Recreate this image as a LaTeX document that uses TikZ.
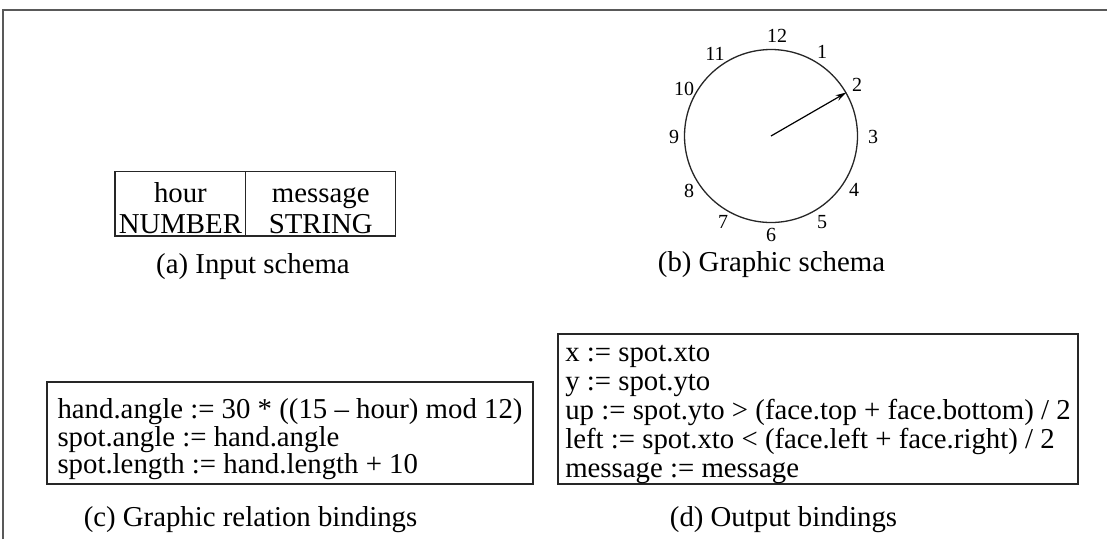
\documentclass[tikz,border=0pt]{standalone}
\usepackage{fontspec}
\setmainfont{Liberation Serif}
\usetikzlibrary{arrows.meta,positioning}
\newcommand{\firstrow}[1]{\rule{0pt}{#1}}

\begin{document}
\begin{tikzpicture}[x=1pt,y=-1pt,>={Stealth[length=11pt,width=6pt]},
    cell/.style={draw=black!85,line width=1.3pt,outer sep=0pt,inner sep=0pt,minimum height=64.3pt,
      align=center,font=\fontsize{28.8}{30.5}\selectfont},
    rulebox/.style={draw=black!85,line width=1.3pt,align=left,inner sep=0pt},
    subcap/.style={font=\fontsize{28.8}{30}\selectfont},
    numeral/.style={font=\fontsize{20}{20}\selectfont,inner sep=0pt}]
  \useasboundingbox (0,0) rectangle (1107,539);
  \draw[line width=1.5pt,black!65] (3,539) -- (3,10) -- (1107,10);

  % input schema
  \node[cell,minimum width=130.7pt] (hourcell) at (180.4,203.9) {\firstrow{28.3pt}hour\\NUMBER};
  \node[cell,minimum width=150pt,right=0pt of hourcell] (msgcell) {\firstrow{28.3pt}message\\STRING};
  \node[subcap] (capa) at (253,267) {(a) Input schema};

  % graphic schema
  \node[draw=black!85,circle,line width=1.3pt,minimum size=173pt,inner sep=0pt] (face) at (771,136) {};
  \foreach \n/\x/\y in {12/777/36,1/822/52,2/857/85,3/873/137,4/854/190,5/822/222,
                        6/771/235,7/723/222,8/689/191,9/674/137,10/684/89,11/715/54}
    \node[numeral] (n\n) at (\x,\y) {\n};
  \path[->,line width=1.2pt] (face.center) edge (face.30);
  \node[subcap] (capb) at (771.5,265) {(b) Graphic schema};

  % bindings
  \node[rulebox,minimum width=486pt,minimum height=102pt,
    font=\fontsize{28.8}{27.5}\selectfont] (relbox) at (290,433)
    {\firstrow{32.3pt}hand.angle := 30 * ((15 – hour) mod 12)\\
     spot.angle := hand.angle\\
     spot.length := hand.length + 10};
  \node[subcap] (capc) at (250.5,520) {(c) Graphic relation bindings};

  \node[rulebox,minimum width=520pt,minimum height=150pt,
    font=\fontsize{28.8}{29}\selectfont] (outbox) at (818,409)
    {\firstrow{27.3pt}x := spot.xto\\
     y := spot.yto\\
     up := spot.yto > (face.top + face.bottom) / 2\\
     left := spot.xto < (face.left + face.right) / 2\\
     message := message};
  \node[subcap] (capd) at (783.5,520) {(d) Output bindings};
\end{tikzpicture}
\end{document}
